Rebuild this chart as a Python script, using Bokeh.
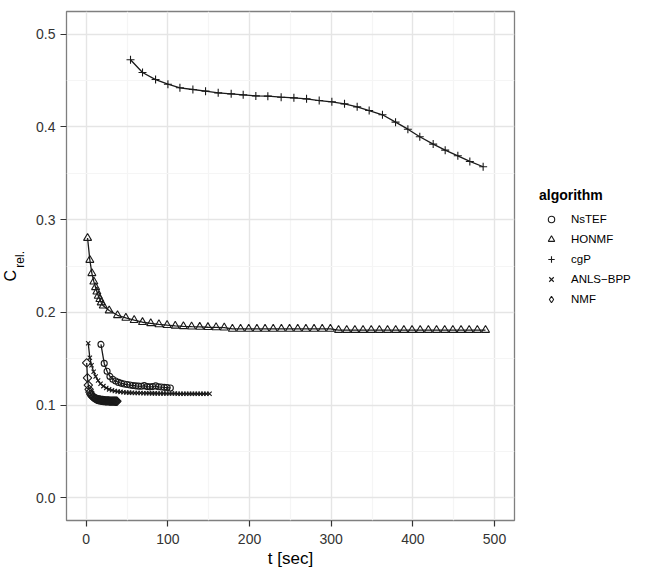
import math
from bokeh.plotting import figure
from bokeh.layouts import row
from bokeh.models import (Range1d, Legend, LegendItem, Title, NumeralTickFormatter,
                          FixedTicker)
from bokeh.embed import file_html
from bokeh.resources import INLINE

# ---------------- data ----------------
x_ticks = [0, 100, 200, 300, 400, 500]
x_minor = [50, 150, 250, 350, 450]
y_ticks = [0.0, 0.1, 0.2, 0.3, 0.4, 0.5]
y_minor = [0.05, 0.15, 0.25, 0.35, 0.45]

nstef_t = [18.0, 22.0, 25.5, 29.0, 32.5, 36.0, 39.5, 43.0, 46.5, 50.0, 53.5, 57.0, 60.5,
           64.0, 67.5, 71.0, 74.5, 78.0, 81.5, 85.0, 88.5, 92.0, 95.5, 99.0, 103.0]
nstef_c = [0.1655, 0.1450, 0.1365, 0.1310, 0.1280, 0.1260, 0.1245, 0.1235, 0.1228, 0.1222,
           0.1217, 0.1212, 0.1208, 0.1205, 0.1203, 0.1210, 0.1200, 0.1197, 0.1200, 0.1208,
           0.1198, 0.1195, 0.1192, 0.1190, 0.1185]

honmf_t = [1.6, 4.4, 6.9, 9.3, 11.4, 13.0, 14.7, 16.7, 18.3, 20.8, 28.1, 38.3, 48.5, 58.7,
           68.9, 79.0, 89.0, 99.0, 109.0, 119.0, 129.0, 139.0, 149.0, 159.0, 169.0, 179.0,
           189.0, 199.0, 209.0, 219.0, 229.0, 239.0, 249.0, 259.0, 269.0, 279.0, 289.0,
           299.0, 309.0, 319.0, 329.0, 339.0, 349.0, 359.0, 369.0, 379.0, 389.0, 399.0,
           409.0, 419.0, 429.0, 439.0, 449.0, 459.0, 469.0, 479.0, 489.0]
honmf_c = [0.2802, 0.2565, 0.2422, 0.2332, 0.2271, 0.2224, 0.2178, 0.2142, 0.2106, 0.2073,
           0.2020, 0.1969, 0.1941, 0.1916, 0.1894, 0.1882, 0.1870, 0.1862, 0.1855, 0.1850,
           0.1846, 0.1843, 0.1840, 0.1838, 0.1836, 0.1822, 0.1822, 0.1822, 0.1822, 0.1822,
           0.1822, 0.1822, 0.1822, 0.1822, 0.1822, 0.1822, 0.1822, 0.1822, 0.1810, 0.1810,
           0.1810, 0.1810, 0.1810, 0.1810, 0.1810, 0.1810, 0.1810, 0.1810, 0.1810, 0.1810,
           0.1810, 0.1810, 0.1810, 0.1810, 0.1810, 0.1810, 0.1810]

cgp_t = [54.2, 68.9, 84.9, 100.0, 114.7, 130.6, 146.1, 161.6, 177.5, 192.2, 207.7, 222.4,
         238.7, 254.3, 269.8, 285.3, 300.8, 316.3, 331.8, 346.5, 362.8, 378.8, 393.9, 408.5,
         424.9, 439.6, 455.1, 469.8, 486.1]
cgp_c = [0.4724, 0.4587, 0.4511, 0.4461, 0.4422, 0.4404, 0.4386, 0.4368, 0.4357, 0.4346,
         0.4335, 0.4332, 0.4321, 0.4314, 0.4303, 0.4285, 0.4271, 0.4249, 0.4217, 0.4177,
         0.4131, 0.4052, 0.3976, 0.3894, 0.3815, 0.3750, 0.3689, 0.3628, 0.3571]

anls_t = [2.4, 4.4, 6.5, 9.0, 11.5, 14.5, 17.5, 21.0, 24.5, 28.0, 31.5, 35.0, 38.5, 42.0,
          45.5, 49.0, 52.5, 56.0, 59.5, 63.0, 66.5, 70.0, 73.5, 77.0, 80.5, 84.0, 87.5,
          91.0, 94.5, 98.0, 101.5, 105.0, 108.5, 112.0, 115.5, 119.0, 122.5, 126.0, 129.5,
          133.0, 136.5, 140.0, 143.5, 147.0, 151.0]
anls_c = [0.1668, 0.1510, 0.1430, 0.1360, 0.1310, 0.1265, 0.1230, 0.1205, 0.1185, 0.1170,
          0.1160, 0.1152, 0.1147, 0.1143, 0.1140, 0.1137, 0.1135, 0.1133, 0.1132, 0.1131,
          0.1130, 0.1129, 0.1128, 0.1128, 0.1127, 0.1127, 0.1126, 0.1126, 0.1126, 0.1125,
          0.1125, 0.1125, 0.1125, 0.1124, 0.1124, 0.1124, 0.1124, 0.1124, 0.1123, 0.1123,
          0.1123, 0.1123, 0.1123, 0.1123, 0.1122]

nmf_t = [0.5, 1.5, 2.5, 3.5, 4.5, 5.5, 6.5, 7.5, 8.5, 9.5, 10.5, 11.5, 12.5, 13.5, 14.5,
         15.5, 16.5, 17.5, 18.5, 19.5, 20.5, 21.5, 22.5, 23.5, 24.5, 25.5, 26.5, 27.5, 28.5,
         29.5, 30.5, 31.5, 32.5, 33.5, 34.5, 35.5, 36.5, 37.5]
nmf_c = [0.1455, 0.1295, 0.1215, 0.1170, 0.1140, 0.1120, 0.1105, 0.1095, 0.1087, 0.1080,
         0.1075, 0.1070, 0.1066, 0.1063, 0.1060, 0.1058, 0.1056, 0.1054, 0.1052, 0.1051,
         0.1050, 0.1049, 0.1048, 0.1047, 0.1046, 0.1046, 0.1045, 0.1045, 0.1044, 0.1044,
         0.1044, 0.1043, 0.1043, 0.1043, 0.1043, 0.1042, 0.1042, 0.1042]

FONT = "Liberation Sans"
LINE = "#1a1a1a"

# name, times, values, plot marker, legend marker
series = [
    ("NsTEF", nstef_t, nstef_c, dict(marker="circle", size=6), "circle"),
    ("HONMF", honmf_t, honmf_c, dict(marker="triangle", size=8), "triangle"),
    ("cgP", cgp_t, cgp_c, dict(marker="cross", size=8), "cross"),
    ("ANLS\u2212BPP", anls_t, anls_c, dict(marker="x", size=6), "x"),
    ("NMF", nmf_t, nmf_c, dict(marker="square", size=6, angle=math.pi / 4), "diamond"),
]

# ---------------- main panel ----------------
fig = figure(width=516, height=570, output_backend="svg", toolbar_location=None,
             x_range=Range1d(-24.2, 524.5), y_range=Range1d(-0.0244, 0.5245),
             min_border_left=66, min_border_right=2, min_border_top=11,
             min_border_bottom=50)
fig.background_fill_color = "white"
fig.border_fill_color = "white"
fig.outline_line_color = "#7f7f7f"
fig.outline_line_width = 1.3

fig.xaxis.ticker = FixedTicker(ticks=x_ticks, minor_ticks=x_minor)
fig.yaxis.ticker = FixedTicker(ticks=y_ticks, minor_ticks=y_minor)
fig.xgrid.ticker = fig.xaxis.ticker
fig.ygrid.ticker = fig.yaxis.ticker
fig.yaxis.formatter = NumeralTickFormatter(format="0.0")
fig.xaxis.formatter = NumeralTickFormatter(format="0")

for g in (fig.xgrid, fig.ygrid):
    g.grid_line_color = "#e5e5e5"
    g.grid_line_width = 1.4
    g.minor_grid_line_color = "#f5f5f5"
    g.minor_grid_line_width = 1.2

for ax in (fig.xaxis, fig.yaxis):
    ax.axis_line_color = None
    ax.major_tick_line_color = "#333333"
    ax.major_tick_line_width = 1.2
    ax.major_tick_out = 6
    ax.major_tick_in = 0
    ax.minor_tick_line_color = None
    ax.major_label_text_font = FONT
    ax.major_label_text_font_size = "14px"
    ax.major_label_text_color = "#333333"
    ax.axis_label_text_font = FONT
    ax.axis_label_text_font_style = "normal"
    ax.axis_label_text_color = "black"

fig.xaxis.major_label_standoff = 7
fig.yaxis.major_label_standoff = 5
fig.xaxis.axis_label = "t [sec]"
fig.xaxis.axis_label_text_font_size = "17px"
fig.xaxis.axis_label_standoff = 2

# y-axis title: "C" with subscript "rel."
fig.yaxis.axis_label = "\u00a0\u00a0\u00a0\u00a0rel."
fig.yaxis.axis_label_text_font_size = "12px"
fig.yaxis.axis_label_standoff = 6
fig.add_layout(Title(text="C", align="left", offset=239, standoff=-17,
                     vertical_align="bottom",
                     text_font=FONT, text_font_size="16px", text_font_style="normal",
                     text_color="black"), "left")

for name, t, c, mk, lm in series:
    fig.line(t, c, line_color=LINE, line_width=1.3)
for name, t, c, mk, lm in series:
    fig.scatter(t, c, line_color=LINE, line_width=1.1, fill_color=None, **mk)

# ---------------- legend column ----------------
leg = figure(width=134, height=570, output_backend="svg", toolbar_location=None,
             x_range=Range1d(0, 1), y_range=Range1d(0, 1),
             x_axis_location=None, y_axis_location=None,
             min_border_left=0, min_border_right=0, min_border_top=0,
             min_border_bottom=0)
leg.outline_line_color = None
leg.xgrid.visible = False
leg.ygrid.visible = False

nan = float("nan")
items = []
for name, t, c, mk, lm in series:
    r = leg.scatter([nan], [nan], marker=lm, line_color=LINE, line_width=1.1,
                    fill_color=None)
    items.append(LegendItem(label=name, renderers=[r]))

legend = Legend(items=items, location=(23, 213), title="algorithm",
                title_text_font=FONT, title_text_font_size="14px",
                title_text_font_style="bold", title_text_color="black",
                title_standoff=8,
                label_text_font=FONT, label_text_font_size="11.5px",
                label_text_color="black",
                glyph_width=24, glyph_height=16, label_height=16,
                label_standoff=8, spacing=4, padding=6, margin=0,
                border_line_color=None, background_fill_alpha=0)
leg.add_layout(legend, "center")

p = row(fig, leg)
open("out.html", "w").write(file_html(p, INLINE))
